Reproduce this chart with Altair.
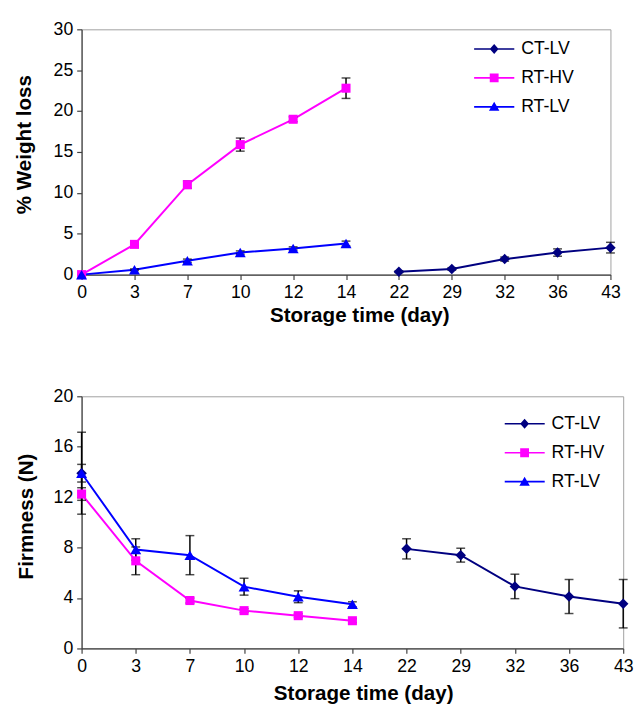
import json
import altair as alt
import pandas as pd

DAYS = ["0", "3", "7", "10", "12", "14", "22", "29", "32", "36", "43"]
RT_DAYS = ["0", "3", "7", "10", "12", "14"]
CT_DAYS = ["22", "29", "32", "36", "43"]
SERIES = ["CT-LV", "RT-HV", "RT-LV"]
COLORS = ["#000080", "#FF00FF", "#0000FF"]

# % weight loss
WL_RTHV = [0, 3.7, 11.0, 15.9, 19.0, 22.8]
WL_RTHV_ERR = [0, 0.35, 0.45, 0.8, 0.3, 1.25]
WL_RTLV = [0, 0.6, 1.7, 2.7, 3.2, 3.8]
WL_RTLV_ERR = [0, 0.1, 0.2, 0.2, 0.2, 0.3]
WL_CTLV = [0.35, 0.7, 1.9, 2.7, 3.3]
WL_CTLV_ERR = [0.1, 0.15, 0.25, 0.45, 0.65]

# Firmness (N)
FM_RTHV = [12.25, 6.95, 3.8, 3.0, 2.6, 2.2]
FM_RTHV_ERR = [0.5, 1.1, 0.2, 0.15, 0.15, 0.15]
FM_RTLV = [13.9, 7.85, 7.4, 4.9, 4.1, 3.5]
FM_RTLV_ERR = [0.7, 0.85, 1.55, 0.67, 0.47, 0.2]
FM_CTLV_DAYS = ["0", "22", "29", "32", "36", "43"]
FM_CTLV = [13.9, 7.9, 7.4, 4.92, 4.12, 3.55]
FM_CTLV_ERR = [3.25, 0.8, 0.55, 0.97, 1.35, 1.92]

# marker shapes
SHAPES = ["diamond", "square", "triangle-up"]
SIZES = [115, 85, 125]
LINE = "M-1,-0.04H1V0.04H-1Z"
LEGEND_PATHS = [
    LINE + "M0,-0.25L0.22,0L0,0.25L-0.22,0Z",
    LINE + "M-0.22,-0.22H0.22V0.22H-0.22Z",
    LINE + "M0,-0.25L0.26,0.2H-0.26Z",
]


def build(rows):
    recs = []
    for series, days, vals, errs in rows:
        for d, v, e in zip(days, vals, errs):
            i = DAYS.index(d)
            recs.append({
                "series": series, "day": d, "idx": i, "value": v, "err": e,
                "lo": v - e, "hi": v + e,
                "seg": "a" if i < 6 else "b",
            })
    return pd.DataFrame(recs)


wl = build([
    ("CT-LV", CT_DAYS, WL_CTLV, WL_CTLV_ERR),
    ("RT-HV", RT_DAYS, WL_RTHV, WL_RTHV_ERR),
    ("RT-LV", RT_DAYS, WL_RTLV, WL_RTLV_ERR),
])
fm = build([
    ("CT-LV", FM_CTLV_DAYS, FM_CTLV, FM_CTLV_ERR),
    ("RT-HV", RT_DAYS, FM_RTHV, FM_RTHV_ERR),
    ("RT-LV", RT_DAYS, FM_RTLV, FM_RTLV_ERR),
])

LABEL_EXPR = json.dumps(DAYS) + "[datum.value]"


def panel(df, ytitle, ymax, ystep, w, h, lx, ly, tpad, xtpad, tx, ty):
    x = alt.X("idx:Q",
              scale=alt.Scale(domain=[0, len(DAYS) - 1], nice=False, zero=False),
              axis=alt.Axis(title="Storage time (day)",
                            values=list(range(len(DAYS))),
                            labelExpr=LABEL_EXPR, labelAngle=0,
                            labelFlush=False, titlePadding=xtpad,
                            titleX=tx))

    def yenc(field):
        return alt.Y(field, scale=alt.Scale(domain=[0, ymax], nice=False),
                     axis=alt.Axis(title=ytitle,
                                   values=list(range(0, ymax + 1, ystep)),
                                   titlePadding=tpad, titleY=ty))

    base = alt.Chart(df)
    layers = []
    for s, c in zip(SERIES, COLORS):
        layers.append(
            base.transform_filter(alt.datum.series == s)
            .mark_line(color=c, strokeWidth=2)
            .encode(x=x, y=yenc("value:Q"), detail="seg:N"))
    err = base.transform_filter("datum.err > 0")
    layers.append(err.mark_rule(color="black", strokeWidth=1.5)
                  .encode(x=x, y=yenc("lo:Q"), y2="hi:Q"))
    layers.append(err.mark_tick(color="black", size=9, thickness=1.5,
                                orient="horizontal")
                  .encode(x=x, y=yenc("lo:Q")))
    layers.append(err.mark_tick(color="black", size=9, thickness=1.5,
                                orient="horizontal")
                  .encode(x=x, y=yenc("hi:Q")))
    for s, c, shp, sz in zip(SERIES, COLORS, SHAPES, SIZES):
        layers.append(
            base.transform_filter(alt.datum.series == s)
            .mark_point(shape=shp, filled=True, size=sz, color=c,
                        opacity=1, strokeWidth=0)
            .encode(x=x, y=yenc("value:Q")))
    leg = alt.Legend(title=None, orient="none", legendX=lx, legendY=ly,
                     symbolSize=1681, clipHeight=20, labelOffset=7,
                     labelFontSize=18, labelFont="Liberation Sans",
                     labelColor="black", rowPadding=9.5, padding=0,
                     symbolStrokeWidth=0, symbolOpacity=1)
    layers.append(
        base.transform_filter("false").mark_point(filled=True)
        .encode(x=x, y=yenc("value:Q"),
                color=alt.Color("series:N",
                                scale=alt.Scale(domain=SERIES, range=COLORS),
                                legend=leg),
                shape=alt.Shape("series:N",
                                scale=alt.Scale(domain=SERIES,
                                                range=LEGEND_PATHS),
                                legend=leg)))
    return alt.layer(*layers).properties(width=w, height=h)


top = panel(wl, "% Weight loss", 30, 5, 539, 250, 400, 10, 19, 4, 283, 117)
bottom = panel(fm, "Firmness (N)", 20, 4, 552, 257, 431, 18, 17, 8, 287, 122)

chart = (
    alt.vconcat(top, bottom, spacing=61)
    .resolve_scale(color="independent", shape="independent")
    .resolve_legend(color="independent", shape="independent")
    .properties(padding={"left": 5, "top": 5, "right": 0, "bottom": 0})
    .configure_view(stroke="#a0a0a0", strokeWidth=1)
    .configure_axis(grid=False, domainColor="#404040", tickColor="#404040",
                    domainWidth=1.2, tickWidth=1.2, tickSize=5,
                    labelFont="Liberation Sans", labelFontSize=18,
                    labelColor="black", labelPadding=4,
                    titleFont="Liberation Sans", titleFontSize=21,
                    titleFontWeight="bold", titleColor="black")
)

chart.save("out.html", embed_options={"renderer": "svg", "actions": False})
